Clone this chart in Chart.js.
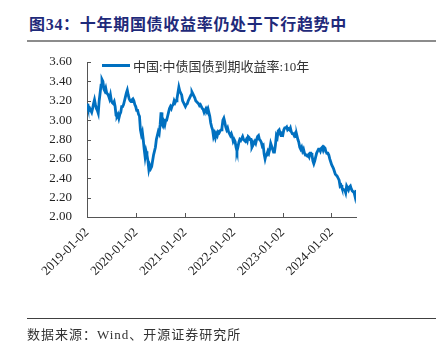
<!DOCTYPE html>
<html>
<head>
<meta charset="utf-8">
<script src="https://cdn.jsdelivr.net/npm/chart.js@4"></script>
<style>
  body { margin: 0; width: 436px; height: 353px; background: #fff; position: relative; overflow: hidden; }
  #chartBox { position: absolute; left: 0; top: 0; width: 436px; height: 353px; }
  .title { position: absolute; left: 29px; top: 11px; font: bold 16px "Liberation Serif", "Noto Sans CJK SC"; color: #1f2a7a; white-space: nowrap; letter-spacing: 0.7px; }
  .topRule { position: absolute; left: 27px; top: 40px; width: 409px; height: 2px; background: #8c8c8c; }
  .bottomRule { position: absolute; left: 27px; top: 318px; width: 409px; height: 1px; background: #404040; }
  .source { position: absolute; left: 27px; top: 324px; font: 13px "Liberation Serif", "Noto Sans CJK SC"; color: #333; letter-spacing: 1px; white-space: nowrap; }
  .legendLine { position: absolute; left: 102px; top: 64px; width: 28px; height: 3px; background: #0070C0; }
  .legendText { position: absolute; left: 133px; top: 56px; font: 13px "Liberation Serif", "Noto Sans CJK SC"; color: #333; white-space: nowrap; }
</style>
</head>
<body>
<div class="title">图34：十年期国债收益率仍处于下行趋势中</div>
<div class="topRule"></div>
<div id="chartBox"><canvas id="yieldChart" width="436" height="353"></canvas></div>
<div class="legendLine"></div>
<div class="legendText" id="legendText"></div>
<div class="bottomRule"></div>
<div class="source">数据来源：Wind、开源证券研究所</div>
<script>
// weekly observations (Wednesdays) starting from startDate
const startDate = "2019-01-02";
const seriesName = "中国:中债国债到期收益率:10年";
const tickLabels = ["2019-01-02", "2020-01-02", "2021-01-02", "2022-01-02", "2023-01-02", "2024-01-02"];
const yTicks = [2.0, 2.2, 2.4, 2.6, 2.8, 3.0, 3.2, 3.4, 3.6];

const yield2019 = [3.17, 3.13, 3.10, 3.12, 3.10, 3.08, 3.12, 3.17, 3.21, 3.16, 3.12, 3.10, 3.07,
  3.20, 3.28, 3.36, 3.42, 3.40, 3.32, 3.30, 3.33, 3.28, 3.27, 3.25, 3.22, 3.26,
  3.20, 3.18, 3.17, 3.19, 3.14, 3.05, 3.04, 3.06, 3.02, 3.06, 3.08, 3.14, 3.14,
  3.16, 3.20, 3.24, 3.28, 3.31, 3.26, 3.22, 3.20, 3.19, 3.21, 3.22, 3.20, 3.16];
const yield2020 = [3.14, 3.10, 3.10, 3.06, 3.04, 2.90, 2.85, 2.88, 2.80, 2.70, 2.62, 2.68, 2.64,
  2.58, 2.49, 2.53, 2.50, 2.52, 2.58, 2.64, 2.68, 2.72, 2.80, 2.84, 2.88, 2.86,
  2.95, 3.08, 2.96, 2.94, 2.98, 2.95, 3.00, 3.00, 3.04, 3.08, 3.12, 3.14, 3.12, 3.15,
  3.16, 3.20, 3.18, 3.20, 3.22, 3.28, 3.34, 3.30, 3.28, 3.26, 3.20, 3.18, 3.16];
const yield2021 = [3.14, 3.16, 3.17, 3.20, 3.22, 3.24, 3.26, 3.29, 3.27, 3.25, 3.23, 3.20, 3.19,
  3.18, 3.17, 3.15, 3.16, 3.14, 3.12, 3.11, 3.08, 3.10, 3.12, 3.10, 3.12, 3.08,
  3.04, 2.97, 2.93, 2.90, 2.83, 2.86, 2.82, 2.86, 2.84, 2.88, 2.87, 2.89, 2.90,
  2.92, 3.00, 3.02, 2.98, 2.93, 2.90, 2.92, 2.88, 2.86, 2.84, 2.86, 2.83, 2.78];
const yield2022 = [2.80, 2.78, 2.72, 2.68, 2.72, 2.77, 2.80, 2.79, 2.81, 2.83, 2.80, 2.79, 2.78,
  2.80, 2.78, 2.83, 2.82, 2.80, 2.80, 2.72, 2.74, 2.76, 2.78, 2.76, 2.80, 2.83,
  2.84, 2.80, 2.79, 2.77, 2.73, 2.74, 2.65, 2.60, 2.64, 2.65, 2.68, 2.66, 2.70,
  2.76, 2.73, 2.70, 2.67, 2.67, 2.74, 2.84, 2.82, 2.89, 2.90, 2.86, 2.84, 2.86];
const yield2023 = [2.85, 2.90, 2.92, 2.92, 2.93, 2.90, 2.91, 2.90, 2.92, 2.88, 2.86, 2.86, 2.84,
  2.86, 2.83, 2.84, 2.80, 2.77, 2.72, 2.70, 2.72, 2.68, 2.70, 2.66, 2.64, 2.64,
  2.63, 2.64, 2.62, 2.66, 2.66, 2.64, 2.58, 2.55, 2.58, 2.62, 2.66, 2.68, 2.70,
  2.70, 2.68, 2.71, 2.72, 2.69, 2.72, 2.71, 2.67, 2.66, 2.66, 2.64, 2.60, 2.57];
const yield2024 = [2.54, 2.52, 2.50, 2.47, 2.44, 2.43, 2.42, 2.40, 2.38, 2.32, 2.33, 2.30, 2.29,
  2.28, 2.28, 2.25, 2.32, 2.30, 2.28, 2.31, 2.32, 2.29, 2.27, 2.26, 2.25, 2.21, 2.28];

const weeklyYield = [].concat(yield2019, yield2020, yield2021, yield2022, yield2023, yield2024);
const DAY = 86400000;
const t0 = Date.parse(startDate);
const points = weeklyYield.map((v, i) => ({ x: t0 + i * 7 * DAY, y: v }));

const axisColor = "#555555";
const lineColor = "#0070C0";

document.getElementById("legendText").textContent = seriesName;

// short inward tick marks like the original
const innerTicks = {
  id: "innerTicks",
  afterDraw(chart) {
    const { ctx, chartArea, scales } = chart;
    ctx.save();
    ctx.strokeStyle = axisColor;
    ctx.lineWidth = 1;
    ctx.beginPath();
    yTicks.forEach((v) => {
      const y = Math.round(scales.y.getPixelForValue(v)) + 0.5;
      ctx.moveTo(chartArea.left, y);
      ctx.lineTo(chartArea.left + 4, y);
    });
    tickLabels.forEach((s) => {
      const x = Math.round(scales.x.getPixelForValue(Date.parse(s))) + 0.5;
      ctx.moveTo(x, chartArea.bottom);
      ctx.lineTo(x, chartArea.bottom - 4);
    });
    ctx.stroke();
    ctx.restore();
  },
};

new Chart(document.getElementById("yieldChart"), {
  type: "line",
  data: {
    datasets: [{
      label: seriesName,
      data: points,
      borderColor: lineColor,
      backgroundColor: lineColor,
      borderWidth: 2.8,
      pointRadius: 0,
      tension: 0,
    }],
  },
  options: {
    responsive: false,
    animation: false,
    layout: { padding: { top: 62, right: 80, left: 0, bottom: 0 } },
    plugins: {
      tooltip: { enabled: false },
      legend: { display: false },
    },
    scales: {
      x: {
        type: "linear",
        min: t0,
        max: points[points.length - 1].x,
        afterFit: (scale) => { scale.height = 136; },
        afterBuildTicks: (scale) => {
          scale.ticks = tickLabels.map((s) => ({ value: Date.parse(s) }));
        },
        grid: { display: false, drawTicks: false },
        border: { display: true, color: axisColor, width: 1 },
        ticks: {
          autoSkip: false,
          maxRotation: 45,
          minRotation: 45,
          padding: 8,
          color: "#222",
          font: { family: "'Liberation Serif'", size: 13 },
          callback: (value) => tickLabels.find((s) => Date.parse(s) === value) || "",
        },
      },
      y: {
        min: 2.0,
        max: 3.6,
        afterFit: (scale) => { scale.width = 87; },
        afterBuildTicks: (scale) => {
          scale.ticks = yTicks.map((v) => ({ value: v }));
        },
        grid: { display: false, drawTicks: false },
        border: { display: true, color: axisColor, width: 1 },
        ticks: {
          padding: 15,
          color: "#222",
          font: { family: "'Liberation Serif'", size: 13 },
          callback: (value) => Number(value).toFixed(2),
        },
      },
    },
  },
  plugins: [innerTicks],
});
</script>
</body>
</html>
